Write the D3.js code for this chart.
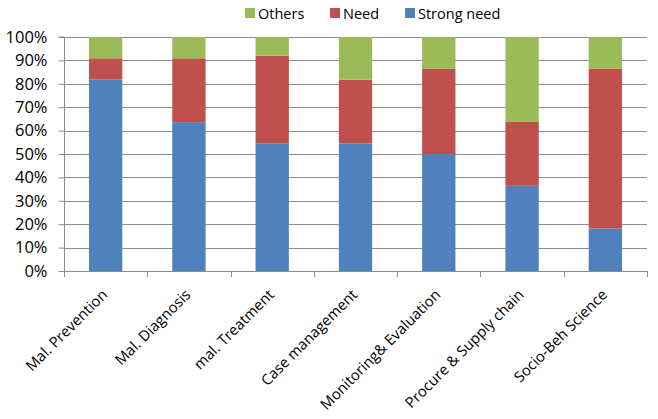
<!DOCTYPE html>
<html><head><meta charset="utf-8">
<script src="https://cdn.jsdelivr.net/npm/d3@7"></script>
<style>body{margin:0;background:#fff}svg{display:block}text{font-family:"Open Sans",sans-serif;fill:#000}</style>
</head><body><svg id="c" width="658" height="419"></svg>
<script>
const categories = ["Mal. Prevention","Mal. Diagnosis","mal. Treatment","Case management","Monitoring& Evaluation","Procure & Supply chain","Socio-Beh Science"];
const strongNeed = [81.8, 63.6, 54.5, 54.5, 50.0, 36.4, 18.2];
const need = [9.1, 27.3, 37.5, 27.3, 36.4, 27.3, 68.2];
const others = [9.1, 9.1, 8.0, 18.2, 13.6, 36.3, 13.6];
const yTicks = [0,10,20,30,40,50,60,70,80,90,100];
const seriesNames = ["Strong need","Need","Others"];
const colors = {"Strong need":"#4F81BD","Need":"#C0504D","Others":"#9BBB59"};

const svg = d3.select("#c");
const L=64, R=647, T=37, B=271;
const x = d3.scaleBand().domain(categories).range([L,R]).paddingInner(0.6).paddingOuter(0.3);
const xb = d3.scaleBand().domain(categories).range([L,R]);
const y = d3.scaleLinear().domain([0,100]).range([B,T]);
const grid = "#8c8c8c";

// gridlines
svg.append("g").selectAll("line").data(yTicks.filter(d=>d>0)).join("line")
  .attr("x1",L).attr("x2",R).attr("y1",d=>Math.round(y(d))+0.5).attr("y2",d=>Math.round(y(d))+0.5)
  .attr("stroke",grid).attr("stroke-width",1);

// stacked bars
const table = categories.map((c,i)=>({cat:c,"Strong need":strongNeed[i],"Need":need[i],"Others":others[i]}));
const stack = d3.stack().keys(seriesNames)(table);
svg.append("g").selectAll("g").data(stack).join("g").attr("fill",d=>colors[d.key])
  .selectAll("rect").data(d=>d).join("rect")
  .attr("x",d=>x(d.data.cat)).attr("width",x.bandwidth())
  .attr("y",d=>y(d[1])).attr("height",d=>y(d[0])-y(d[1]));

// y axis
const ya = svg.append("g").attr("transform",`translate(${L+0.5},0)`)
  .call(d3.axisLeft(y).tickValues(yTicks).tickFormat(d=>d+"%").tickSize(6).tickPadding(11));
ya.select(".domain").attr("stroke",grid).attr("d",`M-6,${T}H0V${B}`);
ya.selectAll(".tick line").attr("stroke",grid);
ya.selectAll(".tick text").style("font-size","16.5px").style("font-family","Open Sans");

// x axis
const xg = svg.append("g");
xg.append("line").attr("x1",L).attr("x2",R).attr("y1",B+0.5).attr("y2",B+0.5).attr("stroke",grid);
xg.selectAll("line.t").data(d3.range(categories.length+1)).join("line").attr("class","t")
  .attr("x1",i=>Math.round(L+i*xb.bandwidth())+0.5).attr("x2",i=>Math.round(L+i*xb.bandwidth())+0.5)
  .attr("y1",B).attr("y2",B+6).attr("stroke",grid);
xg.selectAll("text").data(categories).join("text")
  .attr("transform",d=>`translate(${xb(d)+xb.bandwidth()/2-1},${B+21}) rotate(-45)`)
  .attr("text-anchor","end").attr("dy","0.35em").style("font-size","14.8px").text(d=>d);

// legend
const legendOrder = ["Others","Need","Strong need"];
const lx = [245,330,405];
const lg = svg.append("g").selectAll("g").data(legendOrder).join("g")
  .attr("transform",(d,i)=>`translate(${lx[i]},8)`);
lg.append("rect").attr("width",10).attr("height",10).attr("y",0).attr("fill",d=>colors[d]);
lg.append("text").attr("x",13).attr("y",10.5).style("font-size","14.5px").text(d=>d);
</script></body></html>
